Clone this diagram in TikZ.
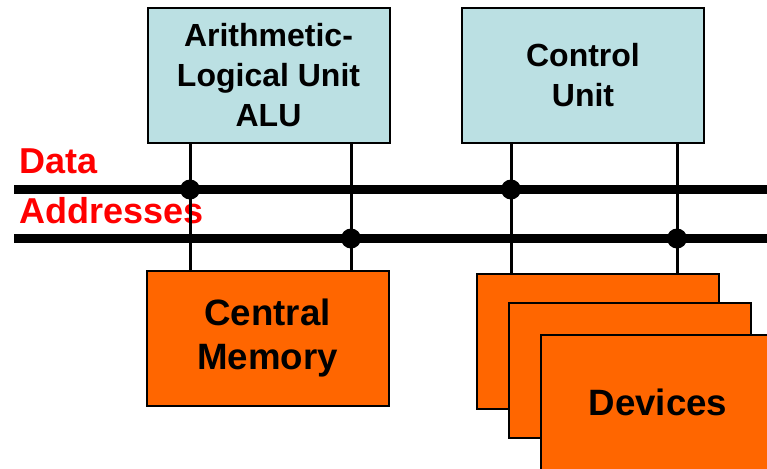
\documentclass[tikz,border=0pt]{standalone}
\usepackage{fontspec}
\setmainfont{Liberation Sans}
\definecolor{unitblue}{RGB}{187,224,227}
\definecolor{devorange}{RGB}{255,102,0}
\tikzset{
  unit/.style={draw=black,line width=1.5pt,fill=unitblue,minimum width=181.5pt,minimum height=101.25pt,
    inner sep=0pt,outer sep=0pt,align=center,font=\bfseries\fontsize{24}{30}\selectfont},
  part/.style={unit,fill=devorange,font=\bfseries\fontsize{27.5}{33}\selectfont},
  bus/.style={line width=6.75pt},
  wire/.style={line width=2.25pt},
  buslabel/.style={anchor=base west,inner sep=0pt,text=red,font=\bfseries\fontsize{27}{30}\selectfont}
}
\begin{document}
\begin{tikzpicture}[x=0.75pt,y=-0.75pt]
    \clip (0,0) rectangle (767,468);
    \fill[white] (0,0) rectangle (767,468);
    % the two buses
    \coordinate (data-w) at (14,189.5);
    \coordinate (data-e) at (775,189.5);
    \coordinate (addr-w) at (14,238.5);
    \coordinate (addr-e) at (775,238.5);
    \draw[bus] (data-w) -- (data-e);
    \draw[bus] (addr-w) -- (addr-e);
    \node[buslabel] (data) at (19,173) {Data};
    \node[buslabel] (addr) at (19,223) {Addresses};
    % units
    \node[unit] (alu) at (268.5,75.5) {Arithmetic-\\Logical Unit\\ALU};
    \node[unit] (cu) at (583,75.5) {Control\\Unit};
    \node[part] (mem) at (267.5,338) {Central\\Memory};
    \node[part] (dev1) at (598,341) {};
    \node[part] (dev2) at (630,370.5) {};
    % last card runs off the page
    \node[part,minimum width=175.5pt,minimum height=105pt] (dev3) at (658,405) {\raisebox{3.75pt}{Devices}};
    % wires and taps
    \foreach \top/\bot/\x/\bus in {alu/mem/190/data,alu/mem/351/addr,cu/dev1/511/data,cu/dev1/677/addr} {
      \coordinate (col) at (\x,0);
      \draw[wire] (\top.south -| col) -- (\bot.north -| col);
      \fill (\bus-w -| col) circle (7.5pt);
    }
  \end{tikzpicture}
\end{document}
